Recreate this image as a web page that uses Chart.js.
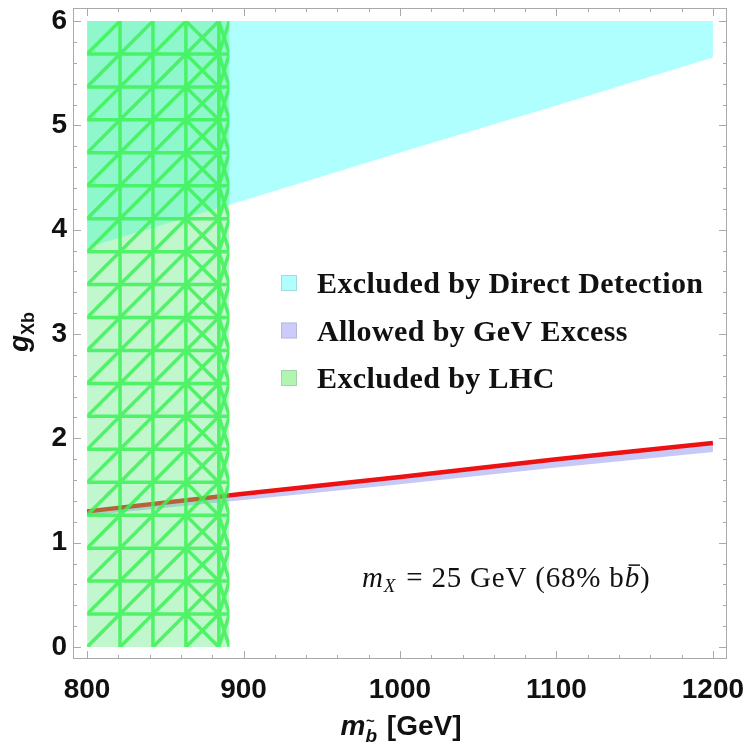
<!DOCTYPE html>
<html>
<head>
<meta charset="utf-8">
<script src="https://cdn.jsdelivr.net/npm/chart.js@4/dist/chart.umd.min.js"></script>
<style>
  html, body { margin: 0; padding: 0; background: #fff; }
  canvas { display: block; }
</style>
</head>
<body>
<canvas id="c" width="750" height="751"></canvas>
<script>
'use strict';

// sbottom mass grid [GeV] and coupling bounds
const massGrid = [800, 900, 1000, 1100, 1200];
const ddUpper = [6, 6, 6, 6, 6];
const ddLower = [3.83, 4.28, 4.74, 5.19, 5.65];
const excessCentral = [1.30, 1.47, 1.63, 1.80, 1.955];
const excessLower = [1.26, 1.41, 1.56, 1.72, 1.87];
const lhcMass = [800, 891];
const lhcUpper = [6, 6];
const lhcLower = [0, 0];

// RegionPlot mesh of the LHC region
const lhcMeshX = [800, 821.05, 842.1, 863.16, 884.21, 891];
const lhcMeshY = [0, 0.316, 0.632, 0.947, 1.263, 1.579, 1.895, 2.211, 2.526, 2.842,
  3.158, 3.474, 3.789, 4.105, 4.421, 4.737, 5.053, 5.368, 5.684, 6];

const xTicks = [800, 900, 1000, 1100, 1200];
const yTicks = [0, 1, 2, 3, 4, 5, 6];

const legendLabels = ['Excluded by Direct Detection', 'Allowed by GeV Excess', 'Excluded by LHC'];
const legendColors = ['#b0ffff', '#ccccfa', '#b0f5b0'];

const SANS = "'Liberation Sans', Arial, sans-serif";
const SERIF = "'Liberation Serif', 'Times New Roman', serif";

const pts = (xs, ys) => xs.map((x, i) => ({ x, y: ys[i] }));

// mixed-font text runs: [{t, f, dy, deco}]
function drawRuns(ctx, runs, x, y, align) {
  let w = 0;
  runs.forEach(r => { ctx.font = r.f; r.w = ctx.measureText(r.t).width; w += r.w + (r.gap || 0); });
  let cx = align === 'center' ? x - w / 2 : x;
  runs.forEach(r => {
    ctx.font = r.f;
    const by = y + (r.dy || 0);
    ctx.fillText(r.t, cx, by);
    if (r.deco === 'bar') {
      ctx.fillRect(cx + 4, by - r.size * 0.78, r.w - 4, 1.5);
    } else if (r.deco === 'tilde') {
      ctx.save();
      ctx.font = 'bold ' + Math.round(r.size * 0.8) + 'px ' + SANS;
      ctx.fillText('~', cx + r.w * 0.05, by - r.size * 0.85);
      ctx.restore();
    }
    cx += r.w + (r.gap || 0);
  });
}

const lhcMesh = {
  id: 'lhcMesh',
  afterDatasetsDraw(chart) {
    const { ctx, scales: { x, y } } = chart;
    const px = v => x.getPixelForValue(v);
    const py = v => y.getPixelForValue(v);
    const x0 = px(lhcMeshX[0]), x1 = px(lhcMeshX[lhcMeshX.length - 1]);
    const y0 = py(lhcMeshY[0]), y1 = py(lhcMeshY[lhcMeshY.length - 1]);
    ctx.save();
    ctx.beginPath();
    ctx.rect(x0, y1, x1 - x0, y0 - y1);
    ctx.clip();
    ctx.strokeStyle = 'rgba(60,242,85,0.85)';
    ctx.lineWidth = 3.5;
    ctx.beginPath();
    for (let i = 1; i < lhcMeshX.length - 1; i++) {
      ctx.moveTo(px(lhcMeshX[i]), y0); ctx.lineTo(px(lhcMeshX[i]), y1);
    }
    for (let j = 1; j < lhcMeshY.length - 1; j++) {
      ctx.moveTo(x0, py(lhcMeshY[j])); ctx.lineTo(x1, py(lhcMeshY[j]));
    }
    for (let i = 0; i < lhcMeshX.length - 1; i++) {
      for (let j = 0; j < lhcMeshY.length - 1; j++) {
        const ax = px(lhcMeshX[i]), bx = px(lhcMeshX[i + 1]);
        const ay = py(lhcMeshY[j]), by = py(lhcMeshY[j + 1]);
        ctx.moveTo(ax, ay); ctx.lineTo(bx, by);
        if (i >= 3) { ctx.moveTo(ax, by); ctx.lineTo(bx, ay); }
      }
    }
    ctx.stroke();
    ctx.restore();
  }
};

const frameAndText = {
  id: 'frameAndText',
  afterDraw(chart) {
    const { ctx, chartArea: a, scales: { x, y } } = chart;
    ctx.save();
    // frame with inward ticks on all four sides
    ctx.strokeStyle = '#a9a9a9';
    ctx.lineWidth = 1;
    ctx.strokeRect(a.left + 0.5, a.top + 0.5, a.right - a.left - 1, a.bottom - a.top - 1);
    ctx.beginPath();
    for (let v = 800; v <= 1200; v += 20) {
      const p = Math.round(x.getPixelForValue(v)) + 0.5;
      const len = v % 100 === 0 ? 8 : 4;
      ctx.moveTo(p, a.bottom); ctx.lineTo(p, a.bottom - len);
      ctx.moveTo(p, a.top); ctx.lineTo(p, a.top + len);
    }
    for (let k = 0; k <= 30; k++) {
      const p = Math.round(y.getPixelForValue(k / 5)) + 0.5;
      const len = k % 5 === 0 ? 8 : 4;
      ctx.moveTo(a.left, p); ctx.lineTo(a.left + len, p);
      ctx.moveTo(a.right, p); ctx.lineTo(a.right - len, p);
    }
    ctx.stroke();

    ctx.fillStyle = '#111';
    ctx.textBaseline = 'alphabetic';

    // legend
    legendLabels.forEach((lab, i) => {
      const top = 275 + i * 47.5;
      ctx.fillStyle = legendColors[i];
      ctx.fillRect(281, top, 16, 16);
      ctx.strokeStyle = 'rgba(150,150,150,0.35)';
      ctx.strokeRect(281.5, top + 0.5, 15, 15);
      ctx.fillStyle = '#111';
      ctx.font = 'bold 30px ' + SERIF;
      ctx.letterSpacing = '0.4px';
      ctx.fillText(lab, 317, top + 18);
      ctx.letterSpacing = '0px';
    });

    // benchmark annotation
    ctx.letterSpacing = '0.8px';
    drawRuns(ctx, [
      { t: 'm', f: 'italic 29px ' + SERIF },
      { t: 'X', f: 'italic 19px ' + SERIF, dy: 5, gap: 2 },
      { t: ' = 25 GeV (68% b', f: '29px ' + SERIF },
      { t: 'b', f: 'italic 29px ' + SERIF, deco: 'bar', size: 29 },
      { t: ')', f: '29px ' + SERIF }
    ], 362, 587, 'left');
    ctx.letterSpacing = '0px';

    // x axis title
    drawRuns(ctx, [
      { t: 'm', f: 'italic bold 28px ' + SANS },
      { t: 'b', f: 'italic bold 19px ' + SANS, dy: 7, deco: 'tilde', size: 19, gap: 2 },
      { t: ' [GeV]', f: 'bold 28px ' + SANS }
    ], 401, 735, 'center');

    // y axis title
    ctx.translate(28, 332);
    ctx.rotate(-Math.PI / 2);
    drawRuns(ctx, [
      { t: 'g', f: 'italic bold 28px ' + SANS },
      { t: 'Xb', f: 'bold 18px ' + SANS, dy: 6 }
    ], 0, 0, 'center');
    ctx.restore();
  }
};

const noFill = { pointRadius: 0, borderWidth: 0, borderColor: 'transparent' };

new Chart(document.getElementById('c'), {
  type: 'line',
  data: {
    datasets: [
      // LHC exclusion (on top, translucent)
      { ...noFill, data: pts(lhcMass, lhcUpper), fill: '+1', backgroundColor: 'rgba(90,235,120,0.38)', order: 1 },
      { ...noFill, data: pts(lhcMass, lhcLower), fill: false, order: 1 },
      // central GeV-excess coupling
      { data: pts(massGrid, excessCentral), borderColor: '#ee1111', borderWidth: 4.5, pointRadius: 0, fill: false, order: 2 },
      // allowed band
      { ...noFill, data: pts(massGrid, excessCentral), fill: '+1', backgroundColor: '#c8c8f6', order: 3 },
      { ...noFill, data: pts(massGrid, excessLower), fill: false, order: 3 },
      // direct detection exclusion
      { ...noFill, data: pts(massGrid, ddUpper), fill: '+1', backgroundColor: '#b0ffff', order: 4 },
      { ...noFill, data: pts(massGrid, ddLower), fill: false, order: 4 }
    ]
  },
  options: {
    responsive: false,
    animation: false,
    devicePixelRatio: 1,
    layout: { padding: { top: 8, right: 23, left: 0, bottom: 0 } },
    plugins: { legend: { display: false }, tooltip: { enabled: false } },
    scales: {
      x: {
        type: 'linear', min: 791, max: 1209,
        grid: { display: false, drawTicks: false },
        border: { display: false },
        afterBuildTicks: s => { s.ticks = xTicks.map(v => ({ value: v })); },
        afterFit: s => { s.height = 92; s.paddingLeft = 0; s.paddingRight = 0; },
        ticks: {
          font: { family: SANS, size: 28, weight: 'bold' }, color: '#111', padding: 14,
          maxRotation: 0, autoSkip: false, callback: v => String(v)
        }
      },
      y: {
        type: 'linear', min: -0.115, max: 6.125,
        grid: { display: false, drawTicks: false },
        border: { display: false },
        afterBuildTicks: s => { s.ticks = yTicks.map(v => ({ value: v })); },
        afterFit: s => { s.width = 73; s.paddingTop = 0; s.paddingBottom = 0; },
        ticks: { font: { family: SANS, size: 28, weight: 'bold' }, color: '#111', padding: 6, autoSkip: false, callback: v => String(v) }
      }
    }
  },
  plugins: [lhcMesh, frameAndText]
});
</script>
</body>
</html>
